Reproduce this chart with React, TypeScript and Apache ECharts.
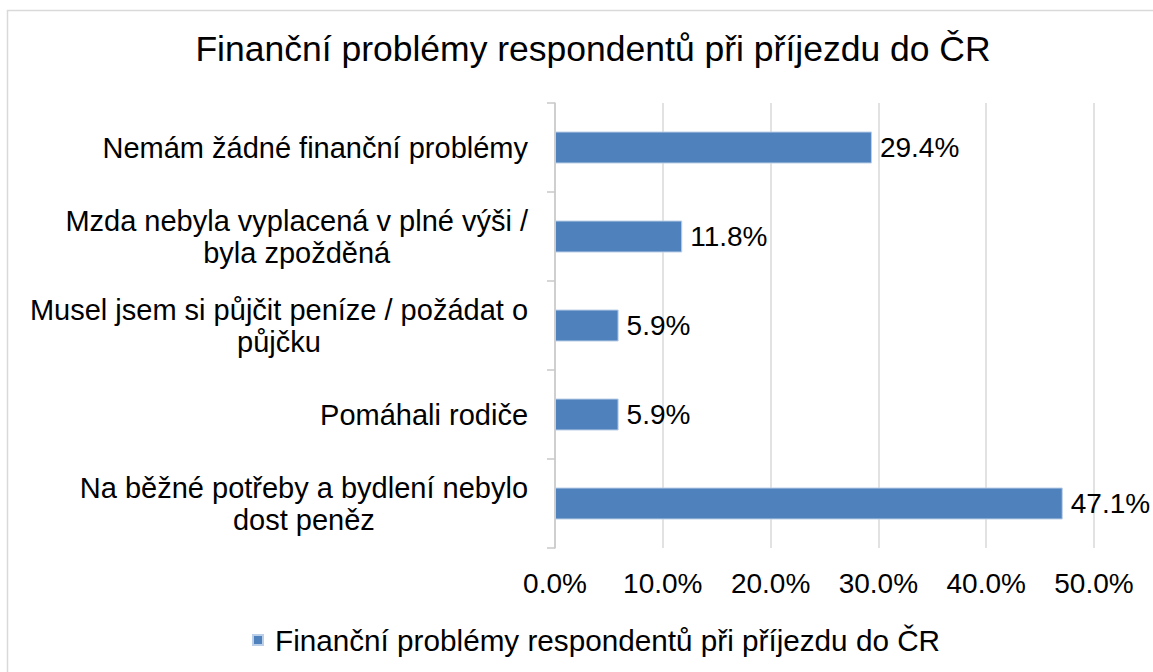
import React, { useEffect, useRef } from "react";
import * as echarts from "echarts";

const titleText = "Finanční problémy respondentů při příjezdu do ČR";
const seriesName = "Finanční problémy respondentů při příjezdu do ČR";
const categories = [
  "Nemám žádné finanční problémy",
  "Mzda nebyla vyplacená v plné výši /\nbyla zpožděná",
  "Musel jsem si půjčit peníze / požádat o\npůjčku",
  "Pomáhali rodiče",
  "Na běžné potřeby a bydlení nebylo\ndost peněz",
];
const values = [29.4, 11.8, 5.9, 5.9, 47.1];
const xMin = 0;
const xMax = 50;
const xInterval = 10;

const FONT = "'Liberation Sans', Arial, sans-serif";

export default function App() {
  const ref = useRef<HTMLDivElement>(null);
  useEffect(() => {
    if (!ref.current) return;
    const chart = echarts.init(ref.current, undefined, { renderer: "svg" });
    chart.setOption({
      animation: false,
      backgroundColor: "#ffffff",
      textStyle: { fontFamily: FONT },
      graphic: [
        {
          type: "rect",
          shape: { x: 7.5, y: 10.5, width: 1170, height: 700 },
          style: { fill: "none", stroke: "#D9D9D9", lineWidth: 1.5 },
          silent: true,
          z: -10,
        },
      ],
      title: {
        text: titleText,
        left: 588,
        textAlign: "center",
        top: 26,
        textStyle: {
          fontFamily: FONT,
          fontSize: 35.5,
          fontWeight: "normal",
          color: "#000000",
        },
      },
      legend: {
        left: 247,
        top: 620,
        icon: "rect",
        itemWidth: 10,
        itemHeight: 10,
        textStyle: {
          fontFamily: FONT,
          fontSize: 29.7,
          color: "#000000",
          padding: [0, 0, 0, 7],
        },
        data: [seriesName],
      },
      grid: {
        left: 555,
        right: 59,
        top: 103,
        bottom: 124,
        containLabel: false,
      },
      xAxis: {
        type: "value",
        min: xMin,
        max: xMax,
        interval: xInterval,
        axisLine: { show: false },
        axisTick: { show: false },
        splitLine: { show: true, lineStyle: { color: "#D9D9D9", width: 1.5 } },
        axisLabel: {
          margin: 21,
          fontFamily: FONT,
          fontSize: 28,
          color: "#000000",
          formatter: (v: number) => v.toFixed(1) + "%",
        },
      },
      yAxis: {
        type: "category",
        inverse: true,
        data: categories,
        axisLine: { show: true, lineStyle: { color: "#C8C8C8", width: 1.5 } },
        axisTick: { show: true, length: 8, lineStyle: { color: "#C8C8C8", width: 1.5 } },
        axisLabel: {
          margin: 27,
          formatter: (v: string) =>
            v
              .split("\n")
              .map((l) => `{c|${l}}`)
              .join("\n"),
          rich: {
            c: {
              align: "center",
              fontFamily: FONT,
              fontSize: 29,
              lineHeight: 32,
              color: "#000000",
            },
          },
        },
      },
      series: [
        {
          name: seriesName,
          type: "bar",
          data: values,
          barWidth: 32,
          itemStyle: {
            color: "#4F81BD",
            borderColor: "#BCCFE8",
            borderWidth: 1,
          },
          label: {
            show: true,
            position: "right",
            distance: 8,
            fontFamily: FONT,
            fontSize: 28,
            color: "#000000",
            formatter: (p: any) => Number(p.value).toFixed(1) + "%",
          },
        },
      ],
    });
    return () => chart.dispose();
  }, []);
  return (
    <div
      ref={ref}
      style={{ position: "absolute", left: 0, top: 0, width: 1153, height: 672 }}
    />
  );
}
